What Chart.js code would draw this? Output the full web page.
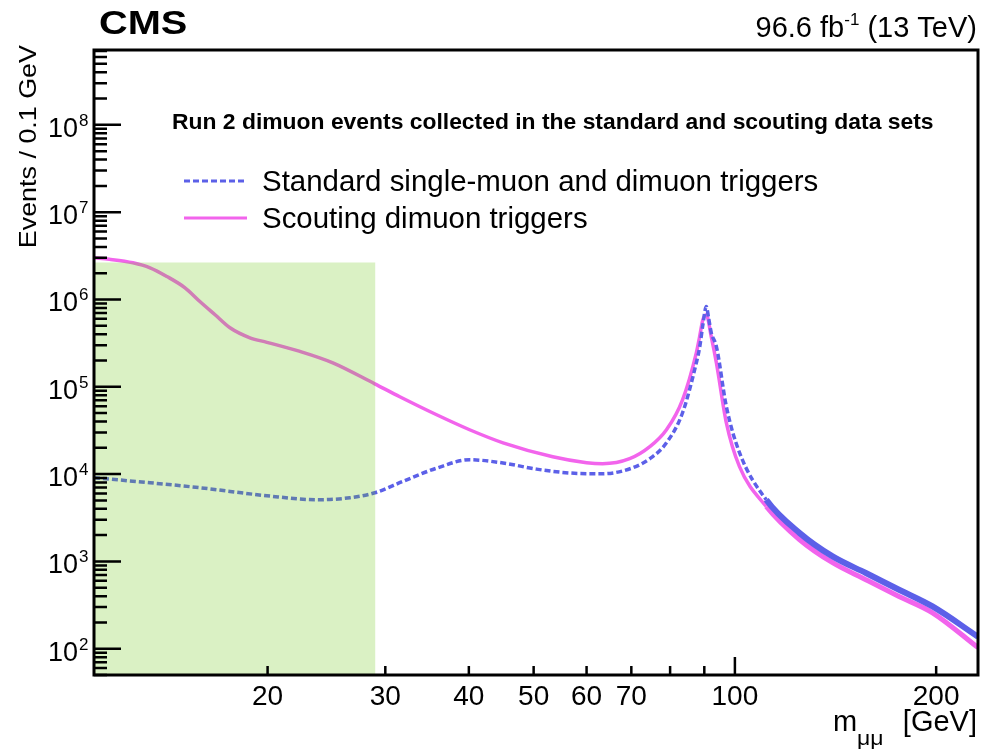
<!DOCTYPE html>
<html>
<head>
<meta charset="utf-8">
<script src="https://cdn.jsdelivr.net/npm/chart.js@4.4.1/dist/chart.umd.min.js"></script>
<style>
  body { margin: 0; background: #fff; }
  #wrap { width: 990px; height: 750px; }
</style>
</head>
<body>
<div id="wrap"><canvas id="myChart" width="990" height="750"></canvas></div>
<script>
// dimuon mass spectrum
var massScouting = [11.0, 11.6, 12.58, 13.34, 14.14, 15.05, 15.84, 16.69, 17.57, 18.82, 19.95, 22.36, 25.04, 28.93,
  31.53, 35.8, 40.1, 45.0, 53.4, 60.0, 63.4, 69.6, 74.6, 79.0, 83.5, 87.56, 88.55, 89.56, 90.62, 92.19, 93.83,
  97.1, 101.6, 111.4, 125, 140, 157, 176, 197.5, 231];
var eventsScouting = [3.0e6, 2.885e6, 2.63e6, 2.306e6, 1.833e6, 1.36e6, 9.48e5, 6.68e5, 4.74e5, 3.64e5, 3.23e5, 2.54e5, 1.88e5, 1.08e5,
  7.69e4, 4.78e4, 3.22e4, 2.28e4, 1.58e4, 1.35e4, 1.313e4, 1.5e4, 2.06e4, 3.22e4, 7.1e4, 2.45e5, 3.74e5, 5.85e5, 6.68e5, 3.74e5, 1.88e5,
  3.87e4, 1.22e4, 4.26e3, 1.77e3, 966, 617, 397, 258, 103];

var massStandard = [11.0, 13.34, 15.84, 19.95, 23.7, 26.55, 28.93, 31.86, 35.8, 40.1, 45.0, 50.49, 56.6, 63.4,
  70.32, 74.6, 79.0, 83.5, 87.56, 88.55, 89.56, 90.62, 91.33, 92.19, 93.83, 97.1, 101.6, 111.4, 125, 140, 157, 176, 197.5, 231];
var eventsStandard = [9.08e3, 7.96e3, 6.98e3, 5.65e3, 5.08e3, 5.36e3, 6.11e3, 8.24e3, 1.17e4, 1.46e4, 1.34e4, 1.14e4, 1.03e4, 1.01e4,
  1.18e4, 1.5e4, 2.28e4, 5.04e4, 1.88e5, 2.8e5, 5.13e5, 8.31e5, 6.17e5, 4.15e5, 2.89e5, 5.95e4, 1.76e4, 5.08e3, 2.11e3, 1.14e3, 736, 474, 305, 137];

// shaded low-mass region
var shadedMass = [11, 29];
var shadedTop = [2.65e6, 2.65e6];

var xTicks = [20, 30, 40, 50, 60, 70, 80, 90, 100, 200];
var xTickLabels = ['20', '30', '40', '50', '60', '70', '', '', '100', '200'];
var xMajorTicks = [100];
var yDecades = [2, 3, 4, 5, 6, 7, 8];

var legendLabels = ['Standard single-muon and dimuon triggers', 'Scouting dimuon triggers'];
var headerText = 'Run 2 dimuon events collected in the standard and scouting data sets';

var FONT = "'Liberation Sans', Arial, Helvetica, sans-serif";
var BLUE = 'rgb(92, 96, 232)';
var PINK = 'rgb(242, 100, 236)';

function toPoints(xs, ys) {
  return xs.map(function (x, i) { return { x: x, y: ys[i] }; });
}

// draw text squeezed/stretched horizontally
function stretchText(ctx, text, x, y, font, align, sx) {
  ctx.save();
  ctx.font = font;
  ctx.textAlign = 'left';
  ctx.textBaseline = 'alphabetic';
  var w = ctx.measureText(text).width * sx;
  var left = align === 'right' ? x - w : (align === 'center' ? x - w / 2 : x);
  ctx.translate(left, y);
  ctx.scale(sx, 1);
  ctx.fillText(text, 0, 0);
  ctx.restore();
  return w;
}

var frameAndText = {
  id: 'frameAndText',
  afterDraw: function (chart) {
    var ctx = chart.ctx;
    var a = chart.chartArea;
    var xs = chart.scales.x;
    var ys = chart.scales.y;
    ctx.save();
    ctx.fillStyle = '#000';
    ctx.strokeStyle = '#000';

    // ticks inside the frame
    ctx.lineWidth = 2.5;
    ctx.beginPath();
    xTicks.forEach(function (v) {
      var px = xs.getPixelForValue(v);
      var len = xMajorTicks.indexOf(v) >= 0 ? 18 : 9;
      ctx.moveTo(px, a.bottom);
      ctx.lineTo(px, a.bottom - len);
    });
    for (var d = 1; d <= 8; d++) {
      for (var k = 1; k <= 9; k++) {
        var v = k * Math.pow(10, d);
        if (v < ys.min || v > ys.max) continue;
        var py = ys.getPixelForValue(v);
        ctx.moveTo(a.left, py);
        ctx.lineTo(a.left + (k === 1 ? 27 : 13), py);
      }
    }
    ctx.stroke();

    // frame
    ctx.lineWidth = 3;
    ctx.strokeRect(a.left, a.top, a.right - a.left, a.bottom - a.top);

    // x tick labels
    ctx.font = '28px ' + FONT;
    ctx.textAlign = 'center';
    ctx.textBaseline = 'alphabetic';
    xTicks.forEach(function (v, i) {
      if (xTickLabels[i]) ctx.fillText(xTickLabels[i], xs.getPixelForValue(v), a.bottom + 30);
    });

    // y tick labels 10^n
    yDecades.forEach(function (n) {
      var py = ys.getPixelForValue(Math.pow(10, n));
      ctx.font = '27px ' + FONT;
      ctx.textAlign = 'right';
      ctx.fillText('10', 78, py + 12);
      ctx.font = '17px ' + FONT;
      ctx.textAlign = 'left';
      ctx.fillText(String(n), 79, py + 1);
    });

    // CMS label and lumi
    stretchText(ctx, 'CMS', 99, 34, 'bold 34px ' + FONT, 'left', 1.17);
    ctx.font = '29px ' + FONT;
    var tail = ' (13 TeV)';
    var wTail = ctx.measureText(tail).width;
    ctx.font = '17px ' + FONT;
    var wSup = ctx.measureText('-1').width;
    ctx.font = '29px ' + FONT;
    var wHead = ctx.measureText('96.6 fb').width;
    var xr = 977;
    ctx.textAlign = 'left';
    ctx.fillText(tail, xr - wTail, 37);
    ctx.fillText('96.6 fb', xr - wTail - wSup - wHead, 37);
    ctx.font = '17px ' + FONT;
    ctx.fillText('-1', xr - wTail - wSup, 25);

    // axis titles
    ctx.font = '29px ' + FONT;
    ctx.textAlign = 'right';
    ctx.fillText('[GeV]', 977, 731);
    ctx.textAlign = 'left';
    ctx.fillText('m', 833, 731);
    stretchText(ctx, '\u03bc\u03bc', 857, 745, '20px ' + FONT, 'left', 1.15);

    ctx.save();
    ctx.translate(36, 45);
    ctx.rotate(-Math.PI / 2);
    stretchText(ctx, 'Events / 0.1 GeV', 0, 0, '24px ' + FONT, 'right', 1.12);
    ctx.restore();

    // header and legend
    stretchText(ctx, headerText, 172, 129, 'bold 22px ' + FONT, 'left', 1.04);

    var entries = [
      { color: BLUE, dash: [6, 3], y: 181 },
      { color: PINK, dash: [], y: 218 }
    ];
    entries.forEach(function (e, i) {
      ctx.strokeStyle = e.color;
      ctx.lineWidth = 3;
      ctx.setLineDash(e.dash);
      ctx.beginPath();
      ctx.moveTo(184, e.y);
      ctx.lineTo(247, e.y);
      ctx.stroke();
      ctx.setLineDash([]);
      ctx.fillStyle = '#000';
      stretchText(ctx, legendLabels[i], 262, e.y + 10, '29px ' + FONT, 'left', 1.015);
    });
    ctx.restore();
  }
};

function tailWidth(thin, thick) {
  return function (c) { return c.p0.parsed.x >= 105 ? thick : thin; };
}

var config = {
  type: 'line',
  data: {
    datasets: [
      {
        label: 'shaded',
        data: toPoints(shadedMass, shadedTop),
        borderWidth: 0,
        pointRadius: 0,
        backgroundColor: 'rgba(107, 199, 19, 0.25)',
        fill: 'start',
        tension: 0
      },
      {
        label: legendLabels[0],
        data: toPoints(massStandard, eventsStandard),
        borderColor: BLUE,
        borderWidth: 3.5,
        borderDash: [6, 3],
        pointRadius: 0,
        fill: false,
        cubicInterpolationMode: 'monotone',
        segment: {
          borderWidth: tailWidth(3.5, 6),
          borderDash: function (c) { return c.p0.parsed.x >= 105 ? [] : [6, 3]; }
        }
      },
      {
        label: legendLabels[1],
        data: toPoints(massScouting, eventsScouting),
        borderColor: PINK,
        borderWidth: 3.5,
        pointRadius: 0,
        fill: false,
        cubicInterpolationMode: 'monotone',
        segment: { borderWidth: tailWidth(3.5, 5) }
      }
    ]
  },
  options: {
    responsive: false,
    animation: false,
    devicePixelRatio: 1,
    layout: { padding: { left: 94, top: 50, right: 12, bottom: 75 } },
    scales: {
      x: { type: 'logarithmic', min: 11, max: 231, display: false },
      y: { type: 'logarithmic', min: 50, max: 7.2e8, display: false }
    },
    plugins: {
      legend: { display: false },
      tooltip: { enabled: false }
    }
  },
  plugins: [frameAndText]
};

var myChart = new Chart(document.getElementById('myChart'), config);
</script>
</body>
</html>
